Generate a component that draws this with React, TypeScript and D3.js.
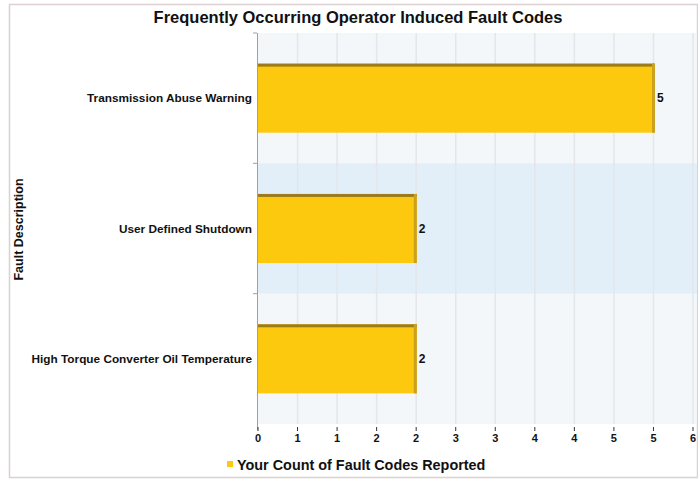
import React from "react";
import * as d3 from "d3";

const categories = [
  "Transmission Abuse Warning",
  "User Defined Shutdown",
  "High Torque Converter Oil Temperature",
];
const counts = [5, 2, 2];
const tickValues = [0, 0.5, 1, 1.5, 2, 2.5, 3, 3.5, 4, 4.5, 5, 5.5];
const tickLabels = ["0", "1", "1", "2", "2", "3", "3", "4", "4", "5", "5", "6"];
const title = "Frequently Occurring Operator Induced Fault Codes";
const yTitle = "Fault Description";
const legendLabel = "Your Count of Fault Codes Reported";

export default function App() {
  const W = 698, H = 479;
  const left = 258, right = 693, top = 33, bottom = 424;
  const x = d3.scaleLinear().domain([0, 5.5]).range([left, right]);
  const xb = d3.scaleLinear().domain([0, 5]).range([left, 655]);
  const y = d3.scaleBand().domain(categories).range([top, bottom]).paddingInner(0).paddingOuter(0);
  const bw = y.bandwidth();
  const barH = bw * 0.53;
  const font = "Liberation Sans, Arial, sans-serif";
  return (
    <svg width={W} height={H} style={{ position: "absolute", left: 0, top: 0 }} fontFamily={font}>
      <rect x={0} y={0} width={W} height={H} fill="#fff" />
      <rect x={9.5} y={4.5} width={W - 10} height={H - 6} fill="none" stroke="#dcd0d0" strokeWidth={1.5} />
      <text x={358} y={23} textAnchor="middle" fontSize={16.5} fontWeight="bold" fill="#111">{title}</text>
      <rect x={left} y={top} width={697 - left} height={bottom - top} fill="#f4f7fa" />
      {categories.map((c, i) =>
        i % 2 === 1 ? (
          <rect key={c} x={left} y={y(c)!} width={697 - left} height={bw} fill="#e2eff9" />
        ) : null
      )}
      {tickValues.slice(1).map((t, i) => (
        <line key={i} x1={x(t)} x2={x(t)} y1={top} y2={bottom} stroke="#e3e6ea" strokeWidth={1.5} />
      ))}
      <line x1={left - 0.5} x2={left - 0.5} y1={top} y2={bottom + 6} stroke="#a0a0a0" strokeWidth={1} />
      {categories.slice(1).map((c) => (
        <line key={c} x1={left - 5} x2={left - 1} y1={y(c)!} y2={y(c)!} stroke="#a0a0a0" />
      ))}
      <line x1={left - 5} x2={left - 1} y1={top} y2={top} stroke="#a0a0a0" />
      {categories.map((c, i) => {
        const by = y(c)! + (bw - barH) / 2;
        const bx = xb(0);
        const bwid = xb(counts[i]) - xb(0);
        return (
          <g key={c}>
            <rect x={bx} y={by} width={bwid} height={barH} fill="#fdc90f" />
            <rect x={bx} y={by} width={bwid} height={3} fill="#9c7a1e" />
            <rect x={bx + bwid - 3} y={by} width={3} height={barH} fill="#caa121" />
            <text x={bx + bwid + 2} y={by + barH / 2 + 4} fontSize={12} fontWeight="bold" fill="#111">{counts[i]}</text>
            <text x={left - 6} y={y(c)! + bw / 2 + 4} textAnchor="end" fontSize={11.8} fontWeight="bold" fill="#111">{c}</text>
          </g>
        );
      })}
      {tickValues.map((t, i) => (
        <g key={i}>
          <line x1={x(t)} x2={x(t)} y1={bottom + 3} y2={bottom + 7} stroke="#333" />
          <text x={x(t)} y={bottom + 18} textAnchor="middle" fontSize={11} fontWeight="bold" fill="#111">{tickLabels[i]}</text>
        </g>
      ))}
      <text transform={`translate(23, ${(top + bottom) / 2 + 1}) rotate(-90)`} textAnchor="middle" fontSize={12.5} fontWeight="bold" fill="#111">{yTitle}</text>
      <rect x={227} y={461} width={6} height={6} fill="#fdc90f" />
      <text x={237} y={470} fontSize={14.4} fontWeight="bold" fill="#111">{legendLabel}</text>
    </svg>
  );
}
